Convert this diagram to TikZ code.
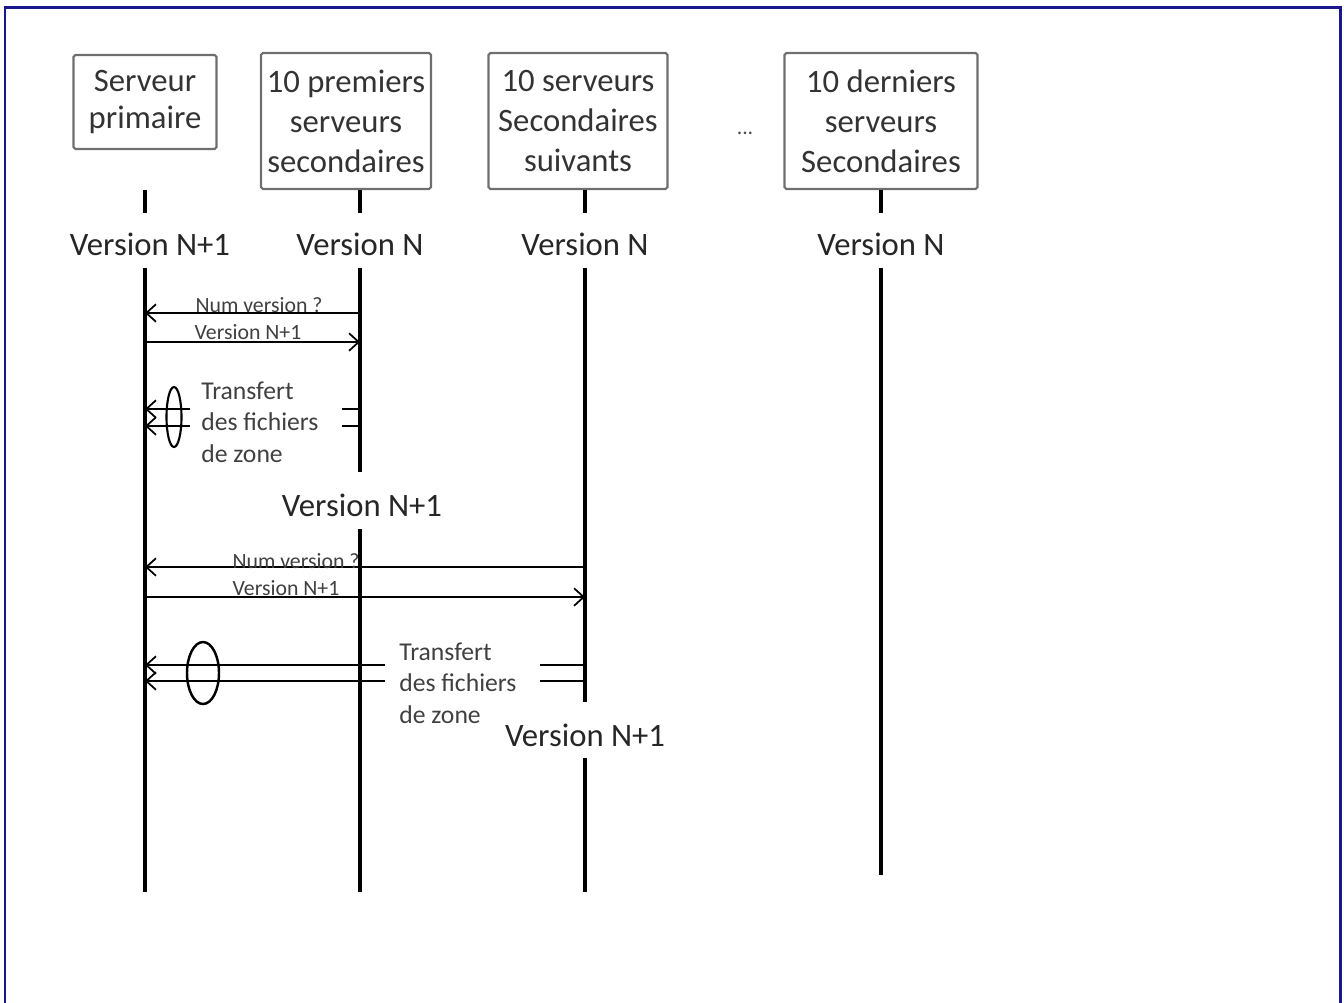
\documentclass[tikz,border=0pt]{standalone}
\usepackage{fontspec}
\setmainfont{Carlito}
\usepackage{tikz}
\usetikzlibrary{arrows.meta}
\definecolor{cadre}{RGB}{24,24,140}
\definecolor{bordgris}{RGB}{110,110,110}

\begin{document}
\begin{tikzpicture}[x=0.02cm,y=-0.02cm,
    serveur/.style={draw=bordgris, line width=1.2pt, rounded corners=1pt, align=center,
        text=black!80, inner sep=0pt, font=\fontsize{18.6}{22.8}\selectfont},
    version/.style={text=black!85, inner sep=1pt, font=\fontsize{18.6}{22}\selectfont},
    msg/.style={text=black!75, inner sep=0pt, font=\fontsize{12.4}{14}\selectfont},
    transfert/.style={text=black!75, inner sep=0pt, align=left, font=\fontsize{14.6}{17.9}\selectfont},
    vie/.style={line width=2pt},
    fleche/.style={line width=1pt, -{Straight Barb[length=5.5pt,width=10pt]}},
    trait/.style={line width=1pt}]
    \useasboundingbox (0,0) rectangle (1344,1002);

    % cadre
    \draw[cadre, line width=1.7pt] (5,1010) -- (5,7) -- (1340,7) -- (1340,1010);

    % les serveurs
    \node[serveur, minimum width=2.86cm, minimum height=1.88cm,
          font=\fontsize{18.6}{21.2}\selectfont] (prim) at (145,102) {Serveur\\primaire};
    \node[serveur, minimum width=3.40cm, minimum height=2.72cm] (sec1) at (346,121) {10 premiers\\serveurs\\secondaires};
    \node[serveur, minimum width=3.58cm, minimum height=2.72cm] (sec2) at (578,121) {10 serveurs\\Secondaires\\suivants};
    \node[serveur, minimum width=3.86cm, minimum height=2.72cm] (sec3) at (881,121) {10 derniers\\serveurs\\Secondaires};
    \node[msg, text=black!70] (pts) at (745,133) {...};

    % versions de depart
    \node[version] (vprim) at (150,244) {Version N+1};
    \node[version] (vsec1) at (360,244) {Version N};
    \node[version] (vsec2) at (585,244) {Version N};
    \node[version] (vsec3) at (881,244) {Version N};

    % lignes de vie
    \coordinate (A0) at (145,190); \coordinate (A1) at (145,213);
    \coordinate (A2) at (145,268); \coordinate (A3) at (145,892);
    \coordinate (B0) at (360,190); \coordinate (B1) at (360,213);
    \coordinate (B2) at (360,268); \coordinate (B3) at (360,472);
    \coordinate (B4) at (360,529); \coordinate (B5) at (360,892);
    \coordinate (C0) at (585,190); \coordinate (C1) at (585,213);
    \coordinate (C2) at (585,268); \coordinate (C3) at (585,702);
    \coordinate (C4) at (585,758); \coordinate (C5) at (585,892);
    \coordinate (D0) at (881,190); \coordinate (D1) at (881,213);
    \coordinate (D2) at (881,268); \coordinate (D3) at (881,875);

    \draw[vie] (A0) -- (A1);  \draw[vie] (A2) -- (A3);
    \draw[vie] (B0) -- (B1);  \draw[vie] (B2) -- (B3);  \draw[vie] (B4) -- (B5);
    \draw[vie] (C0) -- (C1);  \draw[vie] (C2) -- (C3);  \draw[vie] (C4) -- (C5);
    \draw[vie] (D0) -- (D1);  \draw[vie] (D2) -- (D3);

    % premier groupe
    \coordinate (m1a) at (360,313); \coordinate (m1b) at (145,313);
    \coordinate (m2a) at (145,342); \coordinate (m2b) at (360,342);
    \draw[fleche] (m1a) -- (m1b);
    \draw[fleche] (m2a) -- (m2b);
    \node[msg] (n1) at (259,305) {Num version ?};
    \node[msg] (n2) at (248,332) {Version N+1};

    \coordinate (t1a) at (190,409); \coordinate (t1b) at (145,409);
    \coordinate (t2a) at (190,426); \coordinate (t2b) at (145,426);
    \coordinate (t3a) at (342,409); \coordinate (t3b) at (360,409);
    \coordinate (t4a) at (342,426); \coordinate (t4b) at (360,426);
    \draw[fleche] (t1a) -- (t1b);
    \draw[fleche] (t2a) -- (t2b);
    \draw[trait] (t3a) -- (t3b);
    \draw[trait] (t4a) -- (t4b);
    \draw[line width=1.2pt] (174,417) ellipse [x radius=7.5, y radius=30];
    \node[transfert, anchor=west] (tr1) at (201,422) {Transfert\\des fichiers\\de zone};

    \node[version] (vsec1b) at (362,505) {Version N+1};

    % second groupe
    \coordinate (m3a) at (585,567); \coordinate (m3b) at (145,567);
    \coordinate (m4a) at (145,597); \coordinate (m4b) at (585,597);
    \draw[fleche] (m3a) -- (m3b);
    \draw[fleche] (m4a) -- (m4b);
    \node[msg] (n3) at (296,561) {Num version ?};
    \node[msg] (n4) at (286,588) {Version N+1};

    \coordinate (s1a) at (385,665); \coordinate (s1b) at (145,665);
    \coordinate (s2a) at (385,681); \coordinate (s2b) at (145,681);
    \coordinate (s3a) at (540,665); \coordinate (s3b) at (585,665);
    \coordinate (s4a) at (540,681); \coordinate (s4b) at (585,681);
    \draw[fleche] (s1a) -- (s1b);
    \draw[fleche] (s2a) -- (s2b);
    \draw[trait] (s3a) -- (s3b);
    \draw[trait] (s4a) -- (s4b);
    \draw[line width=1.4pt] (203,673) ellipse [x radius=16, y radius=31];
    \node[transfert, anchor=west] (tr2) at (399,683) {Transfert\\des fichiers\\de zone};

    \node[version] (vsec2b) at (585,735) {Version N+1};

\end{tikzpicture}
\end{document}
